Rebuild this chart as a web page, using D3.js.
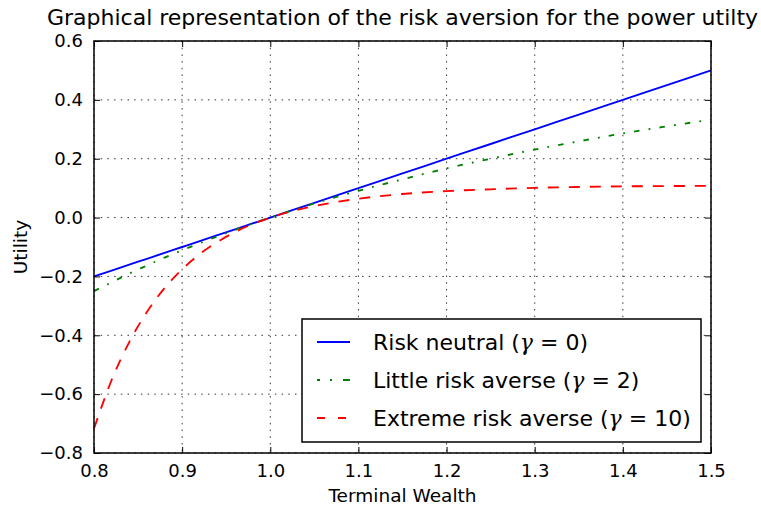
<!DOCTYPE html>
<html>
<head>
<meta charset="utf-8">
<script src="https://cdn.jsdelivr.net/npm/d3@7"></script>
<style>
  body { margin: 0; background: #fff; }
  text { font-family: "DejaVu Sans", sans-serif; fill: #000; }
  .gam { font-family: "DejaVu Serif", serif; font-style: italic; }
</style>
</head>
<body>
<div id="chart"></div>
<script>
// Terminal wealth sample points
const wealth = [0.80, 0.82, 0.84, 0.86, 0.88, 0.90, 0.92, 0.94, 0.96, 0.98, 1.00,
                1.05, 1.10, 1.15, 1.20, 1.25, 1.30, 1.35, 1.40, 1.45, 1.50];
// Utility values
const neutral = [-0.20, -0.18, -0.16, -0.14, -0.12, -0.10, -0.08, -0.06, -0.04, -0.02, 0.00,
                 0.05, 0.10, 0.15, 0.20, 0.25, 0.30, 0.35, 0.40, 0.45, 0.50];
const little = [-0.250, -0.220, -0.190, -0.163, -0.136, -0.111, -0.087, -0.064, -0.042, -0.020, 0.000,
                0.048, 0.091, 0.130, 0.167, 0.200, 0.231, 0.259, 0.286, 0.310, 0.333];
const extreme = [-0.717, -0.552, -0.423, -0.321, -0.240, -0.176, -0.124, -0.083, -0.049, -0.022, 0.000,
                 0.039, 0.064, 0.080, 0.090, 0.096, 0.101, 0.104, 0.106, 0.107, 0.108];
const seriesNames = ["Risk neutral", "Little risk averse", "Extreme risk averse"];
const gammas = [0, 2, 10];
const xTicks = [0.8, 0.9, 1.0, 1.1, 1.2, 1.3, 1.4, 1.5];
const yTicks = [-0.8, -0.6, -0.4, -0.2, 0.0, 0.2, 0.4, 0.6];

const width = 761, height = 505;
const margin = { top: 41, right: 50, bottom: 52, left: 94 };
const innerW = width - margin.left - margin.right;
const innerH = height - margin.top - margin.bottom;

const svg = d3.select("#chart").append("svg")
    .attr("width", width)
    .attr("height", height);

const g = svg.append("g")
    .attr("transform", `translate(${margin.left},${margin.top})`);

const x = d3.scaleLinear().domain([0.8, 1.5]).range([0, innerW]);
const y = d3.scaleLinear().domain([-0.8, 0.6]).range([innerH, 0]);

// dotted grid
g.append("g").selectAll("line").data(xTicks).enter().append("line")
    .attr("x1", d => x(d)).attr("x2", d => x(d))
    .attr("y1", 0).attr("y2", innerH)
    .attr("stroke", "#000").attr("stroke-width", 0.8)
    .attr("stroke-dasharray", "1.5,5.2");
g.append("g").selectAll("line").data(yTicks).enter().append("line")
    .attr("x1", 0).attr("x2", innerW)
    .attr("y1", d => y(d)).attr("y2", d => y(d))
    .attr("stroke", "#000").attr("stroke-width", 0.8)
    .attr("stroke-dasharray", "1.5,5.2");

// series
const series = [
    { values: neutral, color: "#0000ff", dash: null, legendDash: null },
    { values: little, color: "#008000", dash: "5.5,9.2,1.8,9.2", legendDash: "3,10,2,11,7" },
    { values: extreme, color: "#ff0000", dash: "11,10", legendDash: "8,13,8" }
];

const line = d3.line()
    .x((d, i) => x(wealth[i]))
    .y(d => y(d))
    .curve(d3.curveMonotoneX);

series.forEach(s => {
    g.append("path")
        .datum(s.values)
        .attr("fill", "none")
        .attr("stroke", s.color)
        .attr("stroke-width", 1.85)
        .attr("stroke-dasharray", s.dash)
        .attr("d", line);
});

// axes with inward ticks (bottom/left labelled, top/right bare)
const fmt = d3.format(".1f");
const xAxis = d3.axisBottom(x).tickValues(xTicks).tickFormat(fmt).tickSizeInner(-6).tickSizeOuter(0).tickPadding(11);
const yAxis = d3.axisLeft(y).tickValues(yTicks).tickFormat(d => fmt(d).replace("-", "\u2212")).tickSizeInner(-6).tickSizeOuter(0).tickPadding(11);

const gx = g.append("g").attr("transform", `translate(0,${innerH})`).call(xAxis);
const gy = g.append("g").call(yAxis);
g.append("g").call(d3.axisTop(x).tickValues(xTicks).tickFormat("").tickSizeInner(-6).tickSizeOuter(0));
g.append("g").attr("transform", `translate(${innerW},0)`)
    .call(d3.axisRight(y).tickValues(yTicks).tickFormat("").tickSizeInner(-6).tickSizeOuter(0));

g.selectAll(".domain").remove();
g.selectAll(".tick line").attr("stroke", "#000").attr("stroke-width", 1);
[gx, gy].forEach(a => a.selectAll(".tick text")
    .style("font-family", "'DejaVu Sans', sans-serif")
    .style("font-size", "18px")
    .attr("fill", "#000"));

// frame
g.append("rect")
    .attr("width", innerW).attr("height", innerH)
    .attr("fill", "none").attr("stroke", "#000").attr("stroke-width", 1.5);

// title and labels
svg.append("text")
    .attr("x", margin.left + innerW / 2).attr("y", 25)
    .attr("text-anchor", "middle")
    .style("font-size", "22px")
    .text("Graphical representation of the risk aversion for the power utilty");

svg.append("text")
    .attr("x", margin.left + innerW / 2).attr("y", 502)
    .attr("text-anchor", "middle")
    .style("font-size", "18.5px")
    .text("Terminal Wealth");

svg.append("text")
    .attr("transform", `translate(27,${margin.top + innerH / 2}) rotate(-90)`)
    .attr("text-anchor", "middle")
    .style("font-size", "18.5px")
    .text("Utility");

// legend
const legend = g.append("g").attr("transform", `translate(${x(0.8) + 208},${y(-0.8) - 134})`);
legend.append("rect")
    .attr("width", 399).attr("height", 123)
    .attr("fill", "#fff").attr("stroke", "#000").attr("stroke-width", 1.5);

series.forEach((s, i) => {
    const row = legend.append("g").attr("transform", `translate(0,${23 + i * 38})`);
    row.append("line")
        .attr("x1", 15).attr("x2", 48).attr("y1", 0).attr("y2", 0)
        .attr("stroke", s.color).attr("stroke-width", 1.85)
        .attr("stroke-dasharray", s.legendDash);
    const t = row.append("text")
        .attr("x", 71).attr("y", 8)
        .style("font-size", "22px");
    t.append("tspan").text(seriesNames[i] + " (");
    t.append("tspan").attr("class", "gam").text("\u03b3");
    t.append("tspan").text(" = " + gammas[i] + ")");
});
</script>
</body>
</html>
